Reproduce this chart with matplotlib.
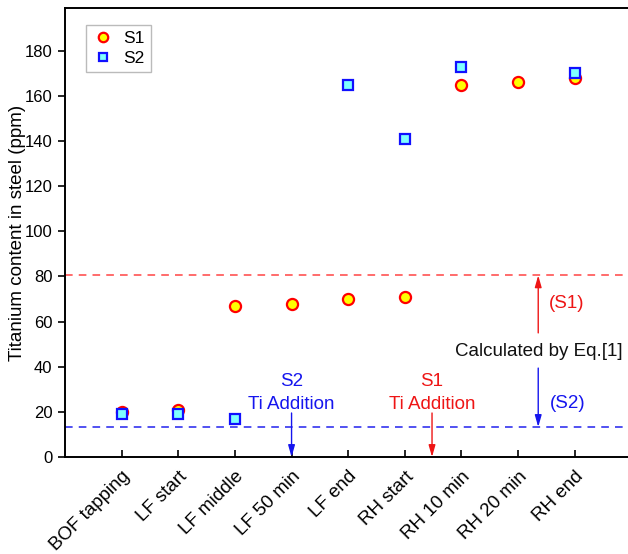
import matplotlib
matplotlib.use("Agg")
import matplotlib.pyplot as plt
import numpy as np

plt.rcParams['font.family'] = ['Liberation Sans', 'DejaVu Sans']

categories = ["BOF tapping", "LF start", "LF middle", "LF 50 min", "LF end",
              "RH start", "RH 10 min", "RH 20 min", "RH end"]
s1 = [20, 21, 67, 68, 70, 71, 165, 166, 168]
s2 = [19, 19, 17, np.nan, 165, 141, 173, np.nan, 170]
s1_line = 80.5
s2_line = 13.3

fig = plt.figure(figsize=(6.28, 5.54), dpi=100)
ax = fig.add_axes([0.1035, 0.1751, 0.8965, 0.8105])

x = np.arange(1, len(categories) + 1)
ax.plot(x, s1, 'o', ms=8, mfc='#FFFF00', mec='#FF0000', mew=1.6, ls='none', label='S1')
ax.plot(x, s2, 's', ms=7.5, mfc='#80FFFF', mec='#1010FF', mew=1.6, ls='none', label='S2')

ax.axhline(s1_line, color='#FF4444', lw=1.1, ls=(0, (5, 4)))
ax.axhline(s2_line, color='#2222EE', lw=1.1, ls=(0, (5, 4)))

ax.set_xlim(0, 9.94)
ax.set_ylim(0, 199)
ax.set_xticks(x)
ax.set_xticklabels(categories, rotation=45, ha='right', rotation_mode='anchor', fontsize=13.5)
ax.set_yticks(np.arange(0, 181, 20))
ax.tick_params(axis='y', direction='out', length=5, width=1.2, labelsize=12, pad=4)
ax.tick_params(axis='x', direction='in', length=5, width=1.2, pad=8)
ax.spines['right'].set_visible(False)
for s in ['left', 'bottom', 'top']:
    ax.spines[s].set_linewidth(1.4)
ax.set_ylabel('Titanium content in steel (ppm)', fontsize=13.5)
ax.yaxis.set_label_coords(-0.069, 0.5)

blue = '#1515EE'
red = '#EE1515'
ap = dict(arrowstyle='-|>,head_length=0.7,head_width=0.2', lw=1.0, shrinkA=0, shrinkB=0)

# Ti addition markers
ax.annotate('', xy=(4, 0), xytext=(4, 19.5), arrowprops=dict(ap, color=blue))
ax.text(4, 33.3, 'S2', color=blue, fontsize=13.5, ha='center', va='center')
ax.text(4, 23.3, 'Ti Addition', color=blue, fontsize=13.5, ha='center', va='center')

ax.annotate('', xy=(6.48, 0), xytext=(6.48, 19.5), arrowprops=dict(ap, color=red))
ax.text(6.48, 33.3, 'S1', color=red, fontsize=13.5, ha='center', va='center')
ax.text(6.48, 23.3, 'Ti Addition', color=red, fontsize=13.5, ha='center', va='center')

# Calculated lines
ax.annotate('', xy=(8.355, s1_line), xytext=(8.355, 55), arrowprops=dict(ap, color=red))
ax.annotate('', xy=(8.355, s2_line), xytext=(8.355, 39.4), arrowprops=dict(ap, color=blue))
ax.text(8.37, 46.7, 'Calculated by Eq.[1]', color='#111111', fontsize=13.5, ha='center', va='center')
ax.text(8.86, 68.2, '(S1)', color=red, fontsize=13.5, ha='center', va='center')
ax.text(8.88, 23.9, '(S2)', color=blue, fontsize=13.5, ha='center', va='center')

leg = ax.legend(loc='upper left', bbox_to_anchor=(0.037, 0.962), borderaxespad=0,
                fontsize=12.5, frameon=True, fancybox=False, edgecolor='#AAAAAA',
                handletextpad=0.5, borderpad=0.35, labelspacing=0.25, handlelength=1.3,
                markerscale=0.85)
leg.get_frame().set_linewidth(1.0)

fig.savefig('out.png', dpi=100)
